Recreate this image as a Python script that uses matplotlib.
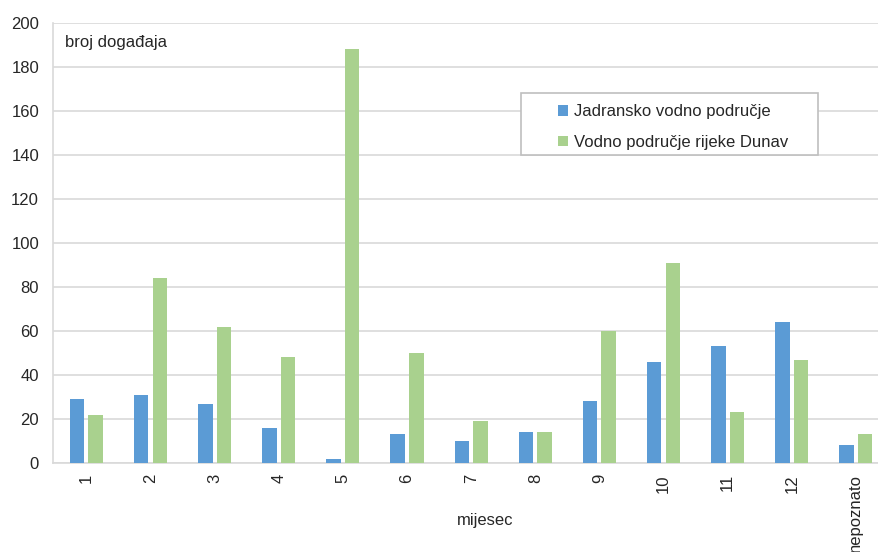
import matplotlib.pyplot as plt
import numpy as np
from matplotlib.patches import Rectangle

# data
categories = ['1', '2', '3', '4', '5', '6', '7', '8', '9', '10', '11', '12', 'nepoznato']
jadran = [29, 31, 27, 16, 2, 13, 10, 14, 28, 46, 53, 64, 8]
dunav = [22, 84, 62, 48, 188, 50, 19, 14, 60, 91, 23, 47, 13]
y_ticks = [0, 20, 40, 60, 80, 100, 120, 140, 160, 180, 200]

plt.rcParams['font.family'] = ['Liberation Sans', 'DejaVu Sans']

fig = plt.figure(figsize=(8.79, 5.52), dpi=100)
ax = fig.add_axes([53 / 879, 89 / 552, 826 / 879, 440 / 552])

x = np.arange(len(categories))
w = 0.225
ax.bar(x - 0.145, jadran, w, color='#5B9BD5', label='Jadransko vodno područje', zorder=3)
ax.bar(x + 0.145, dunav, w, color='#A9D18E', label='Vodno područje rijeke Dunav', zorder=3)

ax.set_xlim(-0.52, 12.36)
ax.set_ylim(0, 200)
ax.set_yticks(y_ticks)
ax.set_xticks(x)
ax.set_xticklabels(categories, rotation=90, fontsize=12, color='#262626')
ax.tick_params(axis='y', labelsize=12, colors='#262626', length=0, pad=10)
ax.tick_params(axis='x', length=0, pad=8)
ax.grid(axis='y', color='#D9D9D9', linewidth=1.2, zorder=0)

for s in ['top', 'right']:
    ax.spines[s].set_visible(False)
ax.spines['left'].set_color('#D9D9D9')
ax.spines['bottom'].set_color('#D9D9D9')
ax.spines['left'].set_linewidth(1.2)
ax.spines['bottom'].set_linewidth(1.2)

ax.text(0.015, 0.955, 'broj događaja', transform=ax.transAxes, fontsize=12,
        color='#262626', va='center', ha='left')
fig.text(485 / 879, 1 - 521 / 552, 'mijesec', fontsize=12, color='#262626',
         ha='center', va='center')

# legend with a wide frame drawn separately
ax.add_patch(Rectangle((0.567, 0.700), 0.359, 0.141, transform=ax.transAxes,
                       facecolor='white', edgecolor='#BFBFBF', linewidth=1.2, zorder=4))
leg = ax.legend(loc='upper left', bbox_to_anchor=(0.597, 0.842), frameon=False,
                fontsize=12, handlelength=0.6, handleheight=0.6, handletextpad=0.35,
                labelspacing=0.95, borderpad=0.2)
leg.set_zorder(5)
for t in leg.get_texts():
    t.set_color('#262626')

fig.savefig('out.png', dpi=100)
